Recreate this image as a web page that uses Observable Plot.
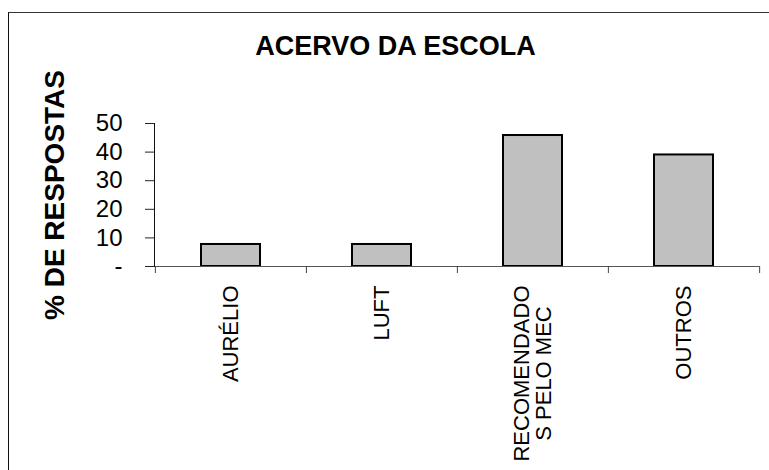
<!DOCTYPE html>
<html><head><meta charset="utf-8">
<script src="https://cdn.jsdelivr.net/npm/d3@7"></script>
<script src="https://cdn.jsdelivr.net/npm/@observablehq/plot@0.6"></script>
<style>
body{margin:0;background:#fff;}
#wrap{position:relative;width:769px;height:470px;overflow:hidden;}
#border{position:absolute;left:8px;top:12px;right:-5px;bottom:-5px;border-left:1px solid #111;border-top:1px solid #333;}
#chart{position:absolute;left:0;top:0;}
</style></head><body>
<div id="wrap"><div id="border"></div><div id="chart"></div></div>
<script>
const categories = ["AURÉLIO", "LUFT", "RECOMENDADOS PELO MEC", "OUTROS"];
const tickLabels = ["AURÉLIO", "LUFT", "RECOMENDADO\nS PELO MEC", "OUTROS"];
const values = [7.7, 7.7, 45.8, 39.0];
const yTicks = [0, 10, 20, 30, 40, 50];
const title = "ACERVO DA ESCOLA";
const yLabel = "% DE RESPOSTAS";

const data = categories.map((c, i) => ({cat: c, value: values[i]}));
const W = 769, H = 470, ML = 154, MR = 10, MT = 123, MB = 204;
const bw = (W - ML - MR) / categories.length;

const chart = Plot.plot({
  width: W, height: H,
  marginLeft: ML, marginRight: MR, marginTop: MT, marginBottom: MB,
  style: {fontFamily: "'Liberation Sans', Arial, sans-serif", background: "transparent", color: "#000", overflow: "visible"},
  x: {domain: categories, padding: 0, axis: null},
  y: {domain: [0, 50], axis: null},
  marks: [
    Plot.barY(data, {x: "cat", y: "value", fill: "#c0c0c0", stroke: "#000", strokeWidth: 2, insetLeft: 46, insetRight: 46}),
    Plot.ruleY([0], {stroke: "#555", strokeWidth: 1}),
    Plot.frame({anchor: "left", stroke: "#111"}),
    Plot.axisY({ticks: yTicks, tickSize: 9, tickPadding: 23, fontSize: 24, stroke: "#222",
      tickFormat: d => d === 0 ? "-" : String(d), label: null}),
    Plot.axisX({tickSize: 0, tickPadding: 19, tickRotate: -90, fontSize: 22,
      tickFormat: d => tickLabels[categories.indexOf(d)], label: null}),
    Plot.axisX({tickSize: 7, dx: -bw / 2, stroke: "#444", tickFormat: () => "", label: null}),
    Plot.axisX({ticks: [categories[categories.length - 1]], tickSize: 7, dx: bw / 2, stroke: "#444", tickFormat: () => "", label: null}),
    Plot.text([title], {text: d => d, frameAnchor: "top", lineAnchor: "bottom", dx: -61.6, dy: -69, fontSize: 27, fontWeight: "bold"}),
    Plot.text([yLabel], {text: d => d, frameAnchor: "left", rotate: -90, textAnchor: "middle", lineAnchor: "bottom", dx: -91, fontSize: 28, fontWeight: "bold"})
  ]
});
document.getElementById("chart").appendChild(chart);
// centre the lines of multi-line category labels on one another (as in the original)
chart.querySelectorAll("text").forEach(t => {
  const ts = t.querySelectorAll("tspan");
  if (ts.length > 1) {
    const lens = Array.from(ts, s => s.getComputedTextLength());
    const maxLen = Math.max(...lens);
    ts.forEach((s, i) => s.setAttribute("x", -(maxLen - lens[i]) / 2));
  }
});
</script>
</body></html>
